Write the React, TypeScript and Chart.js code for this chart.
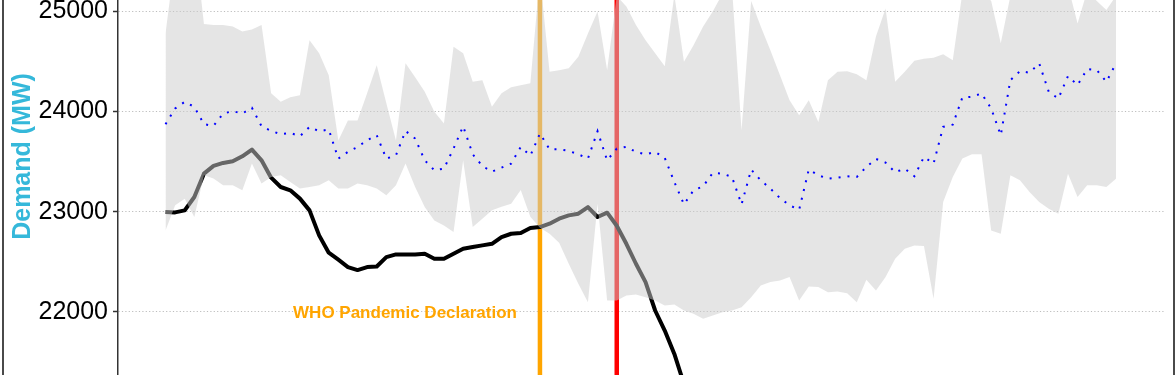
import { useEffect, useRef } from 'react';
import { Chart, registerables } from 'chart.js';

Chart.register(...registerables);

// ---- data (day index 0 = first day shown) ----
const dayIndex: number[] = Array.from({ length: 100 }, (_, i) => i);

const rangeUpper: number[] = [
  24777, 25520, 25700, 25740, 24870, 24860, 24860, 24845, 24795, 24815,
  24860, 24180, 24095, 24140, 24160, 24710, 24580, 24360, 23710, 23910,
  23910, 24180, 24460, 24080, 23710, 24480, 24340, 24195, 23995, 23880,
  24645, 24580, 24295, 24310, 24045, 24180, 24240, 24260, 24280, 25350,
  24395, 24410, 24430, 24545, 24775, 24995, 24410, 25150, 25045, 24860,
  24710, 24580, 24450, 25160, 24495, 24660, 24845, 24995, 25170, 25240,
  23810, 25100, 24845, 24610, 24360, 24110, 23960, 24110, 23895, 24310,
  24395, 24400, 24370, 24310, 24745, 25025, 24295, 24395, 24505, 24525,
  24535, 24570, 24510, 25180, 25300, 25200, 25100, 24680, 25150, 25300,
  25350, 25300, 25250, 25300, 25250, 24875, 25200, 25100, 25010, 25150,
];

const rangeLower: number[] = [
  22813, 23063, 23130, 22947, 23363, 23330, 23263, 23263, 23213, 23479,
  23280, 23346, 23363, 23296, 23230, 23246, 23263, 23313, 23230, 23230,
  23280, 23263, 23230, 23163, 23263, 23479, 23246, 23046, 22913, 22863,
  22797, 23512, 22847, 22930, 23013, 23050, 23080, 23215, 22950, 22840,
  22780, 22690, 22481, 22281, 22098, 23080, 22115, 22115, 22165, 22175,
  22148, 22115, 22065, 22075, 22015, 21982, 21932, 21965, 21998, 22015,
  22048, 22148, 22264, 22298, 22314, 22348, 22115, 22254, 22248, 22198,
  22204, 22188, 22098, 22321, 22214, 22348, 22531, 22630, 22664, 22657,
  22131, 23096, 23346, 23529, 23572, 23572, 22813, 22780, 23363, 23313,
  23196, 23096, 23030, 22980, 23379, 23146, 23263, 23263, 23246, 23329,
];

const historicalMean: number[] = [
  23872, 24028, 24095, 24045, 23872, 23855, 23978, 24002, 23978, 24035,
  23852, 23805, 23772, 23785, 23752, 23845, 23802, 23819, 23529, 23596,
  23645, 23712, 23762, 23529, 23562, 23805, 23729, 23512, 23413, 23429,
  23629, 23852, 23572, 23456, 23399, 23439, 23479, 23645, 23559, 23779,
  23622, 23622, 23606, 23572, 23529, 23802, 23512, 23629, 23646, 23596,
  23572, 23596, 23536, 23296, 23073, 23213, 23253, 23386, 23379, 23346,
  23073, 23419, 23313, 23230, 23136, 23063, 23020, 23420, 23363, 23329,
  23339, 23353, 23346, 23446, 23526, 23489, 23393, 23429, 23353, 23546,
  23479, 23845, 23868, 24138, 24145, 24178, 24028, 23762, 24311, 24401,
  24385, 24478, 24195, 24128, 24351, 24262, 24421, 24411, 24295, 24478,
];

const demand2020: number[] = [
  22997, 22993, 23013, 23146, 23379, 23456, 23486, 23502, 23552, 23619,
  23512, 23339, 23246, 23213, 23130, 23013, 22764, 22591, 22521, 22448,
  22418, 22448, 22454, 22547, 22574, 22574, 22574, 22581, 22531, 22531,
  22581, 22630, 22647, 22664, 22680, 22747, 22780, 22787, 22837, 22847,
  22880, 22930, 22963, 22980, 23046, 22947, 22990, 22860, 22680, 22481,
  22298, 22015, 21815, 21582, 21283, 21000,
];

const eventDays: number[] = [39, 47];
const eventColors: string[] = ['#FFA500', '#FF0000'];
const eventLabel = 'WHO Pandemic Declaration';
const eventLabelValue = 22000;

const yTicks: number[] = [22000, 23000, 24000, 25000];
const Y_MIN = 21372;
const Y_MAX = 25728;
const X_MIN = -4.95;
const X_MAX = 103.95;

const FONT = '"Liberation Sans", Arial, Helvetica, sans-serif';

const toXY = (vals: number[]) => vals.map((v, i) => ({ x: dayIndex[i], y: v }));

export default function App() {
  const ref = useRef<HTMLCanvasElement | null>(null);

  useEffect(() => {
    if (!ref.current) return;

    const overlay = {
      id: 'overlay',
      afterDatasetsDraw(chart: any) {
        const { ctx, scales } = chart;
        const xs = scales.x;
        const ys = scales.y;
        ctx.save();
        ctx.font = `bold 17px ${FONT}`;
        ctx.fillStyle = eventColors[0];
        ctx.textAlign = 'right';
        ctx.textBaseline = 'middle';
        ctx.fillText(eventLabel, xs.getPixelForValue(eventDays[0]) - 23, ys.getPixelForValue(eventLabelValue) + 1);
        ctx.restore();
      },
      afterDraw(chart: any) {
        const { ctx, height } = chart;
        ctx.save();
        ctx.fillStyle = '#4a4a4a';
        ctx.fillRect(2, 0, 2, height);
        ctx.fillRect(1173, 0, 2, height);
        ctx.restore();
      },
    };

    const chart = new Chart(ref.current, {
      type: 'line',
      data: {
        datasets: [
          {
            label: 'Historical mean',
            data: toXY(historicalMean),
            borderColor: '#0000FF',
            borderWidth: 2,
            borderDash: [2, 7],
            borderCapStyle: 'butt',
            pointRadius: 0,
            fill: false,
            tension: 0,
            order: 0,
          },
          {
            label: 'Range upper',
            data: toXY(rangeUpper),
            borderColor: 'rgba(0,0,0,0)',
            borderWidth: 0,
            backgroundColor: 'rgba(204,204,204,0.5)',
            pointRadius: 0,
            fill: '+1',
            tension: 0,
            order: 1,
          },
          {
            label: 'Range lower',
            data: toXY(rangeLower),
            borderColor: 'rgba(0,0,0,0)',
            borderWidth: 0,
            pointRadius: 0,
            fill: false,
            tension: 0,
            order: 2,
          },
          {
            label: '2020 demand',
            data: toXY(demand2020),
            borderColor: '#000000',
            borderWidth: 4,
            borderJoinStyle: 'round',
            borderCapStyle: 'butt',
            pointRadius: 0,
            fill: false,
            tension: 0,
            order: 3,
          },
          ...eventDays.map((d, k) => ({
            label: `event ${k}`,
            data: [
              { x: d, y: Y_MIN },
              { x: d, y: Y_MAX },
            ],
            borderColor: eventColors[k],
            borderWidth: 4.5,
            borderCapStyle: 'butt',
            pointRadius: 0,
            fill: false,
            order: 4 + k,
          })),
        ],
      } as any,
      options: {
        animation: false,
        responsive: false,
        maintainAspectRatio: false,
        devicePixelRatio: 1,
        events: [],
        layout: { padding: { left: 0, right: 11.5, top: 0, bottom: 0 } },
        plugins: {
          legend: { display: false },
          tooltip: { enabled: false },
          title: { display: false },
        },
        scales: {
          x: {
            type: 'linear',
            min: X_MIN,
            max: X_MAX,
            display: false,
          },
          y: {
            type: 'linear',
            min: Y_MIN,
            max: Y_MAX,
            afterBuildTicks: (s: any) => {
              s.ticks = yTicks.map((v) => ({ value: v }));
            },
            afterFit: (s: any) => {
              s.width = 118;
              s.paddingTop = 0;
              s.paddingBottom = 0;
            },
            ticks: {
              color: '#000000',
              font: { family: FONT, size: 25 },
              padding: 5,
              callback: (v: any) => String(v),
            },
            grid: {
              color: '#BDBDBD',
              lineWidth: 1,
              tickColor: '#333333',
              tickLength: 5,
              tickWidth: 1.5,
            },
            border: {
              display: true,
              color: '#333333',
              width: 1.5,
              dash: [1.2, 2.2],
            },
            title: {
              display: true,
              text: 'Demand (MW)',
              color: '#35B8DA',
              font: { family: FONT, size: 25, weight: 'bold' },
              padding: { top: 8, bottom: 0 },
            },
          },
        },
      } as any,
      plugins: [overlay],
    });

    return () => chart.destroy();
  }, []);

  return (
    <div
      style={{
        position: 'fixed',
        left: 0,
        top: 0,
        width: 1175,
        height: 375,
        overflow: 'hidden',
        background: '#ffffff',
      }}
    >
      <canvas
        ref={ref}
        width={1175}
        height={437}
        style={{ position: 'absolute', left: 0, top: -62, width: 1175, height: 437 }}
      />
    </div>
  );
}
